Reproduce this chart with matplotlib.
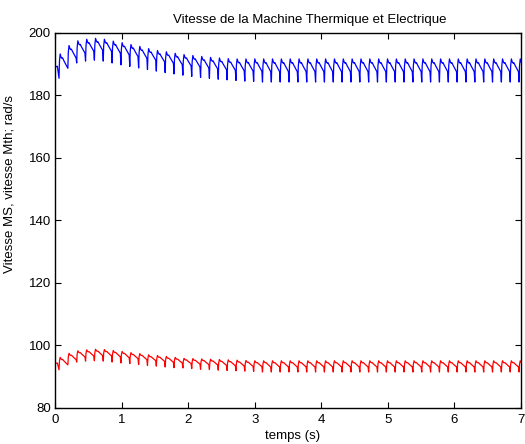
import numpy as np
import matplotlib
matplotlib.use("Agg")
import matplotlib.pyplot as plt

plt.rcParams['font.family'] = ['Liberation Sans', 'DejaVu Sans']

# ---- data ----
period = 0.1329          # s, oscillation period
first_trough = 0.06      # s, time of first trough
n_cycles = 53

# shape of one oscillation cycle (phase 0..1, level 0=trough, 1=peak)
cycle_phase = [0.0, 0.05, 0.13, 0.24, 0.32, 0.40, 0.55, 0.75, 0.93]
cycle_level = [0.0, 0.70, 1.0, 0.86, 0.82, 0.84, 0.72, 0.58, 0.45]

# initial partial segment
start_t = [0.0, 0.035]
blue_start = [189.0, 189.4]
red_start = [94.2, 94.4]

# per-cycle troughs / peaks (vitesse MS, blue)
blue_troughs = [185.5, 188.7, 190.4, 191.0, 191.3, 191.0, 190.4, 189.8, 189.3, 188.8,
                188.3, 187.8, 187.3, 186.9, 186.5, 186.1, 185.8, 185.5, 185.2, 185.0,
                184.8, 184.6, 184.5]
blue_peaks = [193.3, 196.0, 197.5, 198.0, 198.3, 198.0, 197.4, 196.9, 196.3, 195.7,
              195.0, 194.4, 194.0, 193.5, 193.1, 192.8, 192.5, 192.2, 192.0, 191.8]
blue_trough_steady = 184.3
blue_peak_steady = 191.7

# per-cycle troughs / peaks (vitesse Mth, red)
red_troughs = [92.2, 93.8, 94.7, 95.0, 95.1, 95.0, 94.7, 94.4, 94.2, 93.9,
               93.6, 93.4, 93.1, 92.9, 92.8, 92.6, 92.4, 92.3, 92.1, 92.0,
               91.9, 91.8, 91.7]
red_peaks = [96.2, 97.5, 98.3, 98.6, 98.8, 98.7, 98.4, 98.1, 97.7, 97.4,
             97.0, 96.8, 96.5, 96.2, 95.9, 95.8, 95.7, 95.6, 95.5, 95.4,
             95.3, 95.2]
red_trough_steady = 91.5
red_peak_steady = 95.1


def build(start_vals, troughs, peaks, tr_steady, pk_steady):
    troughs = list(troughs) + [tr_steady] * (n_cycles + 1 - len(troughs))
    peaks = list(peaks) + [pk_steady] * (n_cycles + 1 - len(peaks))
    t = list(start_t)
    v = list(start_vals)
    for k in range(n_cycles + 1):
        tk = first_trough + k * period
        for ph, lv in zip(cycle_phase, cycle_level):
            t.append(tk + ph * period)
            v.append(troughs[k] + lv * (peaks[k] - troughs[k]))
    return np.array(t), np.array(v)


tb, vb = build(blue_start, blue_troughs, blue_peaks, blue_trough_steady, blue_peak_steady)
tr, vr = build(red_start, red_troughs, red_peaks, red_trough_steady, red_peak_steady)

fig = plt.figure(figsize=(5.25, 4.44), dpi=100)
ax = fig.add_axes([0.1048, 0.0811, 0.8876, 0.8446])
ax.plot(tb, vb, color='#0000ff', lw=0.9)
ax.plot(tr, vr, color='#ff0000', lw=0.9)

ax.set_xlim(0, 7)
ax.set_ylim(80, 200)
ax.set_xticks(range(0, 8))
ax.set_yticks(range(80, 201, 20))
ax.tick_params(direction='in', top=True, right=True, length=4.5, width=0.8,
               labelsize=9.5, pad=3)
ax.tick_params(axis='x', pad=4)
for s in ax.spines.values():
    s.set_linewidth(1.0)

ax.set_title('Vitesse de la Machine Thermique et Electrique', fontsize=9.5, pad=7,
             x=0.547)
ax.set_xlabel('temps (s)', fontsize=9.5, labelpad=1)
ax.xaxis.set_label_coords(0.51, -0.058)
ax.set_ylabel('Vitesse MS, vitesse Mth; rad/s', fontsize=9.5, labelpad=3)
ax.yaxis.set_label_coords(-0.085, 0.597)

fig.savefig('out.png', dpi=100)
